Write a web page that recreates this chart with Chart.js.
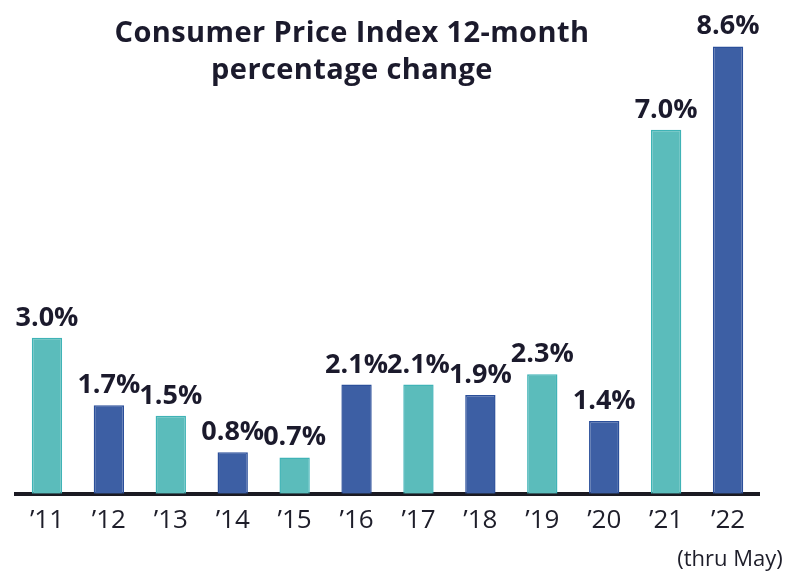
<!DOCTYPE html>
<html>
<head>
<meta charset="utf-8">
<script src="https://cdn.jsdelivr.net/npm/chart.js@4.4.0/dist/chart.umd.min.js"></script>
<style>
  html, body { margin: 0; padding: 0; background: #fff; }
  #wrap { position: relative; width: 800px; height: 573px; }
  #title {
    position: absolute; left: 52px; top: 12px; width: 600px;
    text-align: center; font-family: "Open Sans", sans-serif; font-weight: 700;
    font-size: 29px; letter-spacing: 0.4px; line-height: 37px; color: #1b1a2c;
  }
</style>
</head>
<body>
<div id="wrap">
  <canvas id="cpi" width="800" height="573"></canvas>
  <div id="title">Consumer Price Index 12-month<br>percentage change</div>
</div>
<script>
// years and 12-month CPI change (%)
const years = ['\u201911', '\u201912', '\u201913', '\u201914', '\u201915', '\u201916',
               '\u201917', '\u201918', '\u201919', '\u201920', '\u201921', '\u201922'];
const cpiChange = [3.0, 1.7, 1.5, 0.8, 0.7, 2.1, 2.1, 1.9, 2.3, 1.4, 7.0, 8.6];
const lastNote = '(thru May)';

const TEAL = '#5bbcbb', TEAL_EDGE = '#3fb3b6';
const NAVY = '#3d5fa4', NAVY_EDGE = '#2b4f9a';

// bars alternate teal / navy
const barColors = ['t', 'n', 't', 'n', 't', 'n', 't', 'n', 't', 'n', 't', 'n'];

/**
 * Value labels above each bar + the "(thru May)" note under the last tick
 */
const valueLabels = {
  id: 'valueLabels',
  afterDatasetsDraw(chart) {
    const ctx = chart.ctx;
    const meta = chart.getDatasetMeta(0);
    ctx.save();
    ctx.font = 'bold 27px "Open Sans", sans-serif';
    ctx.fillStyle = '#1b1a2c';
    ctx.textAlign = 'center';
    ctx.textBaseline = 'alphabetic';
    meta.data.forEach((bar, i) => {
      ctx.fillText(cpiChange[i].toFixed(1) + '%', bar.x, bar.y - 12);
    });

    const xScale = chart.scales.x;
    ctx.font = '22px "Open Sans", sans-serif';
    ctx.fillStyle = '#1e1e2a';
    ctx.fillText(lastNote, xScale.getPixelForValue(years.length - 1) + 2, xScale.bottom + 19);
    ctx.restore();
  }
};

new Chart(document.getElementById('cpi'), {
  type: 'bar',
  data: {
    labels: years,
    datasets: [{
      data: cpiChange,
      backgroundColor: barColors.map(c => c === 't' ? TEAL : NAVY),
      borderColor: barColors.map(c => c === 't' ? TEAL_EDGE : NAVY_EDGE),
      borderWidth: 1.5,
      borderSkipped: 'bottom',
      categoryPercentage: 1,
      barPercentage: 0.49
    }]
  },
  options: {
    responsive: false,
    animation: false,
    layout: { padding: { top: 10, left: 16, right: 41, bottom: 26 } },
    plugins: { legend: { display: false }, tooltip: { enabled: false }, title: { display: false } },
    scales: {
      y: { display: false, min: 0, max: 9.3 },
      x: {
        grid: { display: false, drawTicks: false, tickLength: 0 },
        border: { display: true, color: '#1b1a22', width: 4 },
        ticks: {
          autoSkip: false,
          maxRotation: 0,
          minRotation: 0,
          padding: 11,
          color: '#1e1e2a',
          font: { family: '"Open Sans", sans-serif', size: 26, lineHeight: 1.2 }
        }
      }
    }
  },
  plugins: [valueLabels]
});
</script>
</body>
</html>
